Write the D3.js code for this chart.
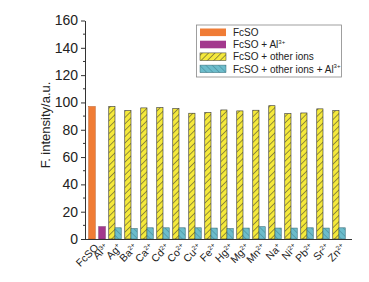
<!DOCTYPE html>
<html>
<head>
<meta charset="utf-8">
<script src="https://cdn.jsdelivr.net/npm/d3@7/dist/d3.min.js"></script>
<style>
html,body{margin:0;padding:0;background:#fff;}
svg{display:block;font-family:"Liberation Sans",Arial,sans-serif;}
</style>
</head>
<body>
<svg id="chart" width="369" height="282"></svg>
<script>
// ---- data ----
const controlCats = [{name:"FcSO", sup:""}, {name:"Al", sup:"3+"}];
const controlValues = [97.0, 9.0];
const ionCats = [
  {name:"Ag", sup:"+"}, {name:"Ba", sup:"2+"}, {name:"Ca", sup:"2+"}, {name:"Cd", sup:"2+"},
  {name:"Co", sup:"2+"}, {name:"Cu", sup:"2+"}, {name:"Fe", sup:"2+"}, {name:"Hg", sup:"2+"},
  {name:"Mg", sup:"2+"}, {name:"Mn", sup:"2+"}, {name:"Na", sup:"+"}, {name:"Ni", sup:"2+"},
  {name:"Pb", sup:"2+"}, {name:"Sr", sup:"2+"}, {name:"Zn", sup:"2+"}
];
const otherIons = [97.0, 94.0, 96.0, 96.2, 95.5, 92.1, 92.6, 94.5, 93.8, 94.3, 97.6, 91.8, 92.3, 95.3, 94.0];
const otherIonsAl = [8.2, 7.6, 8.2, 8.2, 8.2, 8.2, 8.0, 7.6, 8.0, 9.0, 8.0, 8.0, 8.2, 8.0, 8.2];
const yTicks = [0, 20, 40, 60, 80, 100, 120, 140, 160];
const seriesNames = ["FcSO", "FcSO + Al", "FcSO + other ions", "FcSO + other ions + Al"];
const seriesSup = ["", "3+", "", "3+"];

// ---- layout ----
const svg = d3.select("#chart");
const x0 = 85, x1 = 352, yTop = 20.5, yBot = 239;
const y = d3.scaleLinear().domain([0, 160]).range([yBot, yTop]);
const xc = d3.scaleBand().domain(controlCats.map(d => d.name)).range([87, 107]).paddingInner(0.35).paddingOuter(0.17);
const xi = d3.scaleBand().domain(ionCats.map(d => d.name)).range([107, 347]).paddingInner(0.22).paddingOuter(0.11);
const xs = d3.scaleBand().domain([0, 1]).range([0, xi.bandwidth()]);

// patterns
const defs = svg.append("defs");
const p1 = defs.append("pattern").attr("id", "hatchY").attr("patternUnits", "userSpaceOnUse")
  .attr("width", 4.5).attr("height", 4.5).attr("patternTransform", "rotate(45)");
p1.append("rect").attr("width", 4.5).attr("height", 4.5).attr("fill", "#F5E93B");
p1.append("line").attr("x1", 0).attr("y1", 0).attr("x2", 0).attr("y2", 4.5).attr("stroke", "#333").attr("stroke-width", 1);
const p2 = defs.append("pattern").attr("id", "hatchC").attr("patternUnits", "userSpaceOnUse")
  .attr("width", 4.5).attr("height", 4.5).attr("patternTransform", "rotate(-45)");
p2.append("rect").attr("width", 4.5).attr("height", 4.5).attr("fill", "#6CBCCB");
p2.append("line").attr("x1", 0).attr("y1", 0).attr("x2", 0).attr("y2", 4.5).attr("stroke", "#3C7F8E").attr("stroke-width", 0.9);

const fills = ["#F07C35", "#A3388D", "url(#hatchY)", "url(#hatchC)"];
const strokes = ["#B9561E", "#6E2060", "#333", "#3C6F7A"];

// control bars
svg.append("g").selectAll("rect").data(controlValues).join("rect")
  .attr("x", (d, i) => xc(controlCats[i].name))
  .attr("width", xc.bandwidth())
  .attr("y", d => y(d))
  .attr("height", d => y(0) - y(d))
  .attr("fill", (d, i) => fills[i])
  .attr("stroke", (d, i) => strokes[i]).attr("stroke-width", 0.5);

// ion bars
[otherIons, otherIonsAl].forEach((arr, s) => {
  svg.append("g").selectAll("rect").data(arr).join("rect")
    .attr("x", (d, i) => xi(ionCats[i].name) + xs(s))
    .attr("width", xs.bandwidth())
    .attr("y", d => y(d))
    .attr("height", d => y(0) - y(d))
    .attr("fill", fills[s + 2])
    .attr("stroke", strokes[s + 2]).attr("stroke-width", 0.6);
});

// y axis
const yAxis = svg.append("g").attr("transform", `translate(${x0},0)`)
  .call(d3.axisLeft(y).tickValues(yTicks).tickSize(4).tickSizeOuter(0).tickPadding(3));
yAxis.select(".domain").attr("stroke", "#333").attr("stroke-width", 1);
yAxis.selectAll(".tick line").attr("stroke", "#333");
yAxis.selectAll(".tick text").attr("font-size", 14).attr("fill", "#222").attr("font-family", "Liberation Sans, Arial, sans-serif");
// minor ticks
const minor = d3.range(10, 160, 20);
svg.append("g").selectAll("line").data(minor).join("line")
  .attr("x1", x0 - 2).attr("x2", x0).attr("y1", d => y(d)).attr("y2", d => y(d))
  .attr("stroke", "#333").attr("stroke-width", 1);

// x axis line
svg.append("line").attr("x1", x0).attr("x2", x1).attr("y1", yBot + 0.5).attr("y2", yBot + 0.5)
  .attr("stroke", "#333").attr("stroke-width", 1);

// x labels
function label(g, cx, cat) {
  const t = g.append("text")
    .attr("transform", `translate(${cx + 2},${yBot + 4}) rotate(-45)`)
    .attr("text-anchor", "end")
    .attr("dy", "0.7em")
    .attr("font-size", 10.5).attr("fill", "#222");
  t.append("tspan").text(cat.name);
  if (cat.sup) t.append("tspan").attr("font-size", 6.5).attr("dy", "-0.6em").text(cat.sup);
}
const gl = svg.append("g");
controlCats.forEach(c => label(gl, xc(c.name) + xc.bandwidth() / 2, c));
ionCats.forEach(c => label(gl, xi(c.name) + xi.bandwidth() / 2, c));

// y title
svg.append("text")
  .attr("transform", `translate(50,125) rotate(-90)`)
  .attr("text-anchor", "middle").attr("font-size", 13).attr("fill", "#222")
  .text("F. intensity/a.u.");

// legend
const lg = svg.append("g");
lg.append("rect").attr("x", 196.5).attr("y", 25).attr("width", 145).attr("height", 52)
  .attr("fill", "#fff").attr("stroke", "#888").attr("stroke-width", 0.8);
seriesNames.forEach((n, i) => {
  const cy = 32.3 + i * 12.2;
  lg.append("rect").attr("x", 200).attr("y", cy - 3.8).attr("width", 26).attr("height", 7.6)
    .attr("fill", fills[i]).attr("stroke", i >= 2 ? strokes[i] : "none").attr("stroke-width", 0.5);
  const t = lg.append("text").attr("x", 233).attr("y", cy + 3.6).attr("font-size", 10).attr("fill", "#222");
  t.append("tspan").text(n);
  if (seriesSup[i]) t.append("tspan").attr("font-size", 6).attr("dy", "-0.7em").text(seriesSup[i]);
});
</script>
</body>
</html>
